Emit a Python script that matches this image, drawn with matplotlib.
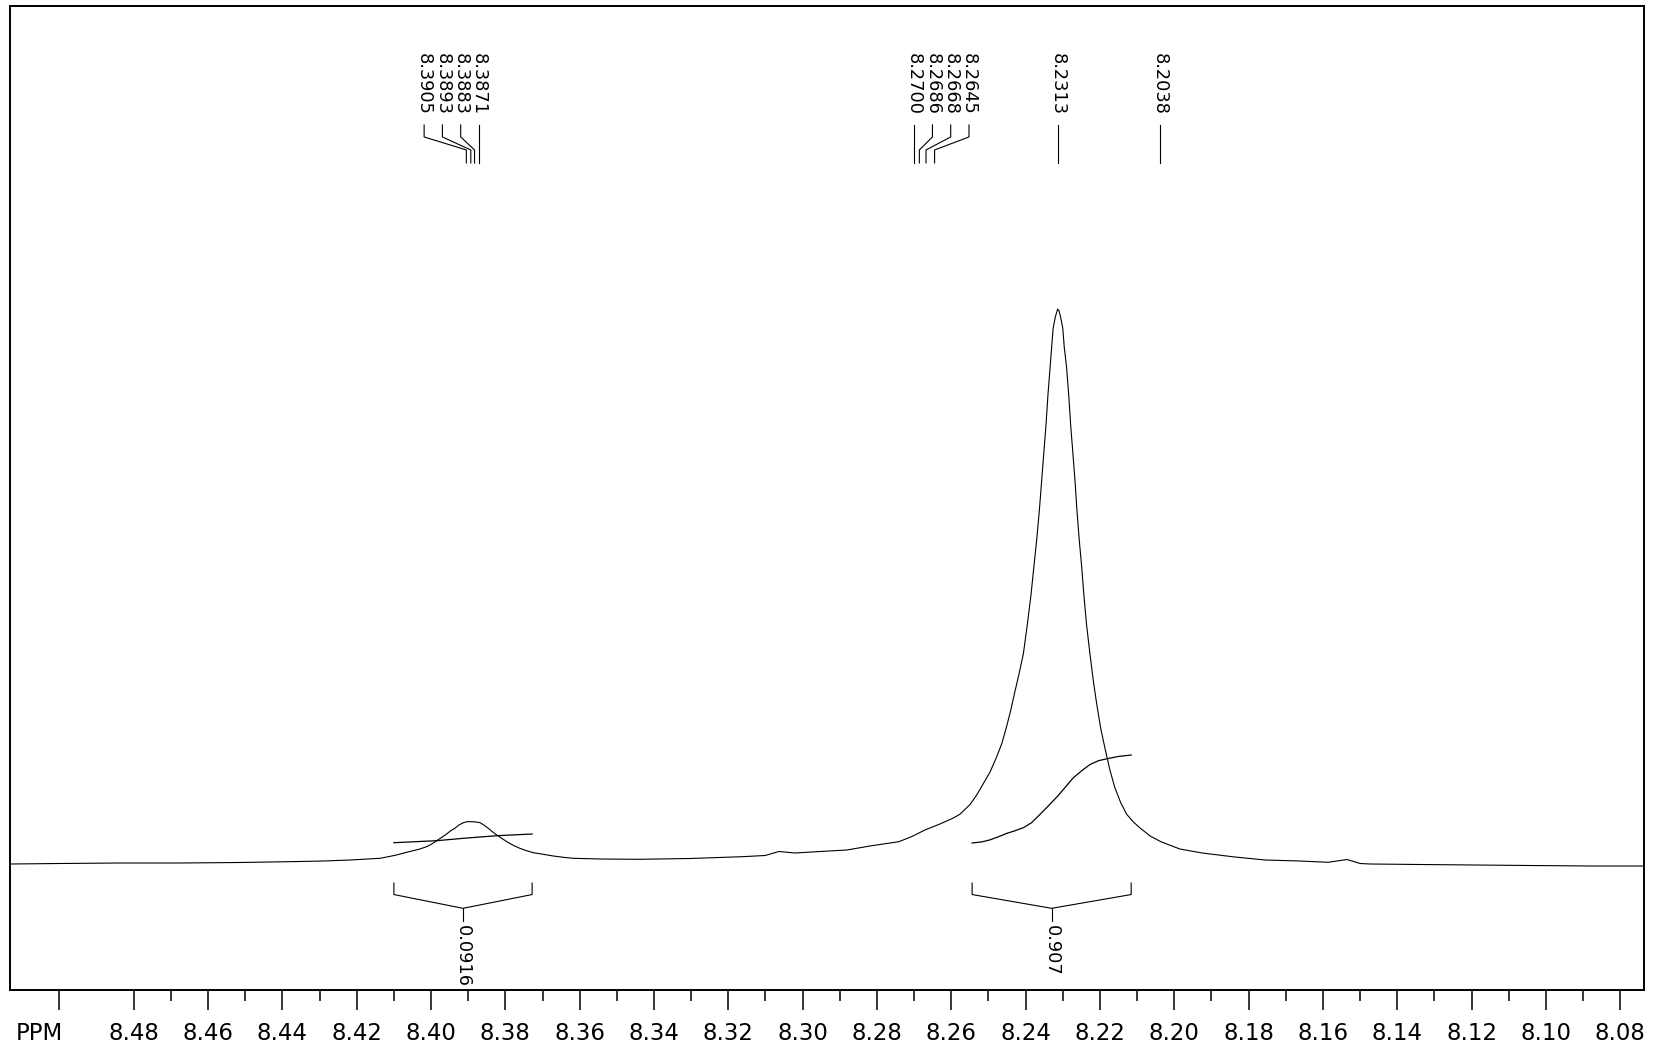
import numpy as np
import matplotlib
matplotlib.use("Agg")
import matplotlib.pyplot as plt
from matplotlib.transforms import blended_transform_factory
from matplotlib.ticker import FixedLocator

# spectrum trace (ppm, arbitrary intensity)
ppm = [8.5133, 8.4999, 8.4837, 8.4676, 8.4514, 8.4353, 8.4288, 8.4218, 8.4137,
       8.4115, 8.4093, 8.4070, 8.4048, 8.4030, 8.4012, 8.3998, 8.3985, 8.3971,
       8.3958, 8.3947, 8.3936, 8.3925, 8.3913, 8.3903, 8.3891, 8.3879, 8.3868,
       8.3858, 8.3846, 8.3835, 8.3823, 8.3810, 8.3796, 8.3779, 8.3761, 8.3743,
       8.3725, 8.3698, 8.3671, 8.3644, 8.3617, 8.3545, 8.3443, 8.3303, 8.3163,
       8.3101, 8.3064, 8.3021, 8.2953, 8.2881, 8.2819, 8.2741, 8.2706, 8.2671,
       8.2630, 8.2595, 8.2577, 8.2550, 8.2532, 8.2514, 8.2496, 8.2478, 8.2464,
       8.2451, 8.2440, 8.2429, 8.2417, 8.2406, 8.2396, 8.2386, 8.2378, 8.2370,
       8.2363, 8.2357, 8.2351, 8.2345, 8.2340, 8.2334, 8.2330, 8.2326, 8.2320,
       8.2316, 8.2314, 8.2310, 8.2306, 8.2300, 8.2296, 8.2290, 8.2284, 8.2279,
       8.2273, 8.2267, 8.2262, 8.2256, 8.2249, 8.2243, 8.2236, 8.2227, 8.2218,
       8.2209, 8.2198, 8.2186, 8.2173, 8.2160, 8.2144, 8.2128, 8.2110, 8.2092,
       8.2065, 8.2036, 8.1985, 8.1925, 8.1837, 8.1756, 8.1662, 8.1586, 8.1535,
       8.1500, 8.1473, 8.1339, 8.1193, 8.1043, 8.0881, 8.0736]
intensity = [0, 0.5, 1, 1, 1.5, 2.5, 3, 4, 5.7,
             7.3, 9, 11.3, 13.3, 15, 17.3, 20, 23.3, 26.7,
             30, 33.3, 35.7, 39, 41.3, 42.3, 42.3, 42, 41.3,
             39, 35.7, 32.3, 29, 25.7, 22.3, 18.7, 15.7, 13.3,
             11.3, 9.7, 8, 6.7, 5.7, 5, 4.7, 5.5, 7.3,
             8.5, 12.5, 11, 12.5, 14, 18, 22.3, 27.5, 34,
             40.1, 45.9, 49.7, 59.3, 68.8, 80.3, 91.8, 107.1, 120.5,
             137.7, 153.8, 172.2, 191.3, 210.4, 238, 267.8, 296.5, 325.2,
             354, 382.7, 411.4, 440, 468.8, 497.5, 516.6, 535.7, 547.2,
             552.2, 554.9, 553, 547.2, 535.7, 516.6, 497.5, 468.8, 440,
             411.4, 382.7, 354, 325.2, 296.5, 267.8, 239.1, 210.4, 183.6,
             160.7, 135.8, 114.8, 93.7, 76.5, 61.2, 49.7, 42, 36,
             28, 22.3, 15, 11, 7, 4, 3, 1.7, 4.5,
             0.5, 0, -0.5, -1, -1.5, -2, -2]

# picked peaks
peak_ppm = [8.3905, 8.3893, 8.3883, 8.3871, 8.2700, 8.2686, 8.2668, 8.2645,
            8.2313, 8.2038]

# integral curves
int1_ppm = [8.4100, 8.3985, 8.3913, 8.3823, 8.3728]
int1_val = [21.3, 23.3, 25.7, 28.3, 30]
int2_ppm = [8.2544, 8.2518, 8.2496, 8.2474, 8.2451, 8.2429, 8.2406, 8.2384,
            8.2361, 8.2339, 8.2316, 8.2294, 8.2272, 8.2249, 8.2227, 8.2204,
            8.2182, 8.2151, 8.2116]
int2_val = [21, 22.1, 24.1, 27.1, 30.6, 33.2, 36.3, 41.3, 49.7, 58.1, 67,
            76.5, 86.1, 93.3, 99.4, 103.3, 105.2, 107.5, 109]
int_labels = ["0.0916", "0.907"]

tick_major = [8.50, 8.48, 8.46, 8.44, 8.42, 8.40, 8.38, 8.36, 8.34, 8.32, 8.30,
              8.28, 8.26, 8.24, 8.22, 8.20, 8.18, 8.16, 8.14, 8.12, 8.10, 8.08]


def spread(peaks, gap, from_right):
    # push overlapping labels apart, starting from one end of the group
    pos = list(peaks)
    if from_right:
        for i in range(len(pos) - 2, -1, -1):
            pos[i] = max(pos[i], pos[i + 1] + gap)
    else:
        for i in range(1, len(pos)):
            pos[i] = min(pos[i], pos[i - 1] - gap)
    return pos


gap = 0.00492
label_pos = (spread(peak_ppm[0:4], gap, True)
             + spread(peak_ppm[4:8], gap, False)
             + peak_ppm[8:])

fig = plt.figure(figsize=(16.69, 10.47), dpi=100)
ax = fig.add_axes([10 / 1669, 57.5 / 1047, 1634 / 1669, 984 / 1047])

ax.plot(ppm, intensity, color="black", lw=0.8)
ax.plot(int1_ppm, int1_val, color="black", lw=0.9)
ax.plot(int2_ppm, int2_val, color="black", lw=0.9)

ax.set_xlim(8.5133, 8.0736)
ax.set_ylim(-125.5, 858.5)

trans = blended_transform_factory(ax.transData, ax.transAxes)

# peak labels with their leader lines
for p, lx in zip(peak_ppm, label_pos):
    ax.text(lx, 0.952, f"{p:.4f}", rotation=270, ha="center", va="top",
            fontsize=12.8, transform=trans)
    ax.plot([lx, lx, p, p], [0.8786, 0.8664, 0.8532, 0.8400],
            color="black", lw=0.8, transform=trans)

# integration brackets
for xs, lab in zip([int1_ppm, int2_ppm], int_labels):
    a, b = xs[0], xs[-1]
    m = (a + b) / 2
    ax.plot([a, a, m, b, b], [0.1082, 0.0965, 0.0825, 0.0965, 0.1082],
            color="black", lw=0.8, transform=trans)
    ax.plot([m, m], [0.0825, 0.0699], color="black", lw=0.8, transform=trans)
    ax.text(m, 0.0655, lab, rotation=270, ha="center", va="top",
            fontsize=12.8, transform=trans)

for s in ax.spines.values():
    s.set_linewidth(1.4)
    s.set_color("black")

ax.set_yticks([])
ax.xaxis.set_major_locator(FixedLocator(tick_major))
ax.xaxis.set_minor_locator(FixedLocator([round(t - 0.01, 2) for t in tick_major[1:]]))
ax.set_xticklabels(["" if t == 8.50 else f"{t:.2f}" for t in tick_major])
ax.tick_params(axis="x", which="major", direction="out", length=14.4, width=1.1,
               labelsize=16.5, pad=9)
ax.tick_params(axis="x", which="minor", direction="out", length=7.9, width=1.1)

fig.text(16 / 1669, 7 / 1047, "PPM", fontsize=16.5, ha="left", va="baseline")

fig.savefig("out.png", dpi=100)
